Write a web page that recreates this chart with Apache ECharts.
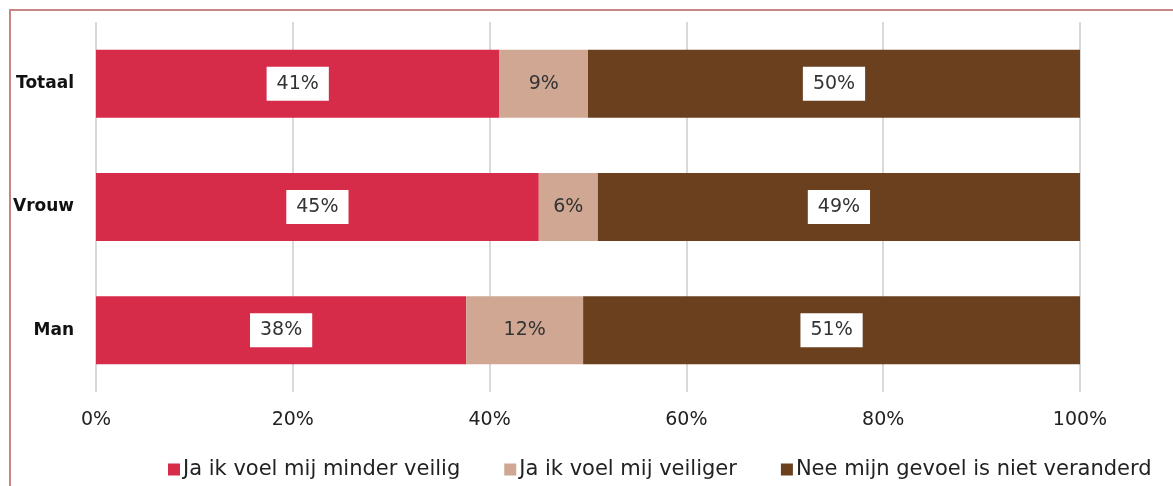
<!DOCTYPE html>
<html>
<head>
<meta charset="utf-8">
<script src="https://cdn.jsdelivr.net/npm/echarts@6/dist/echarts.min.js"></script>
<style>
  html, body { margin: 0; padding: 0; background: #fff; overflow: hidden; }
  #frame {
    position: absolute; left: 9px; top: 9px;
    width: 1300px; height: 600px;
    border-left: 2px solid #c98585; border-top: 2px solid #c98585;
  }
  #chart { position: absolute; left: 0; top: 0; width: 1173px; height: 486px; }
</style>
</head>
<body>
<div id="frame"></div>
<div id="chart"></div>
<script>
const categories = ['Man', 'Vrouw', 'Totaal']
const minderVeilig = [38, 45, 41]
const veiliger = [12, 6, 9]
const nietVeranderd = [51, 49, 50]
const xTicks = ['0%', '20%', '40%', '60%', '80%', '100%']

const seriesNames = ['Ja ik voel mij minder veilig', 'Ja ik voel mij veiliger', 'Nee mijn gevoel is niet veranderd']
const colors = ['#d72b4a', '#cfa792', '#6a401e']
const rows = [minderVeilig, veiliger, nietVeranderd]

// bars are scaled to the row total so every bar ends at 100%
const rowSum = categories.map((c, i) => rows.reduce((s, r) => s + r[i], 0))

const font = 'DejaVu Sans'

const chart = echarts.init(document.getElementById('chart'))

const series = rows.map((vals, k) => ({
  name: seriesNames[k],
  type: 'bar',
  stack: 'total',
  barWidth: 68,
  itemStyle: { color: colors[k] },
  label: {
    show: true,
    position: 'inside',
    fontFamily: font,
    fontSize: 19,
    color: '#333',
    backgroundColor: k === 1 ? 'transparent' : '#fff',
    padding: [8, 10, 7, 10],
    formatter: p => vals[p.dataIndex] + '%'
  },
  data: vals.map((v, i) => v / rowSum[i] * 100)
}))

chart.setOption({
  animation: false,
  textStyle: { fontFamily: font },
  grid: { left: 96, right: 93, top: 22, bottom: 94, containLabel: false },
  xAxis: {
    type: 'value',
    min: 0,
    max: 100,
    interval: 20,
    axisLine: { show: false },
    axisTick: { show: false },
    splitLine: { show: true, lineStyle: { color: '#d9d9d9', width: 2 } },
    axisLabel: {
      margin: 19,
      fontSize: 19,
      color: '#222',
      fontFamily: font,
      formatter: (v) => xTicks[v / 20]
    }
  },
  yAxis: {
    type: 'category',
    data: categories,
    axisLine: { show: false },
    axisTick: { show: false },
    axisLabel: { fontSize: 17, fontWeight: 'bold', color: '#111', fontFamily: font, margin: 22 }
  },
  legend: {
    bottom: 1,
    left: 163,
    itemWidth: 12,
    itemHeight: 12,
    itemGap: 44,
    icon: 'rect',
    textStyle: { fontSize: 21, color: '#222', fontFamily: font, padding: [0, 0, 0, -2] },
    data: seriesNames
  },
  series: series
})
</script>
</body>
</html>
